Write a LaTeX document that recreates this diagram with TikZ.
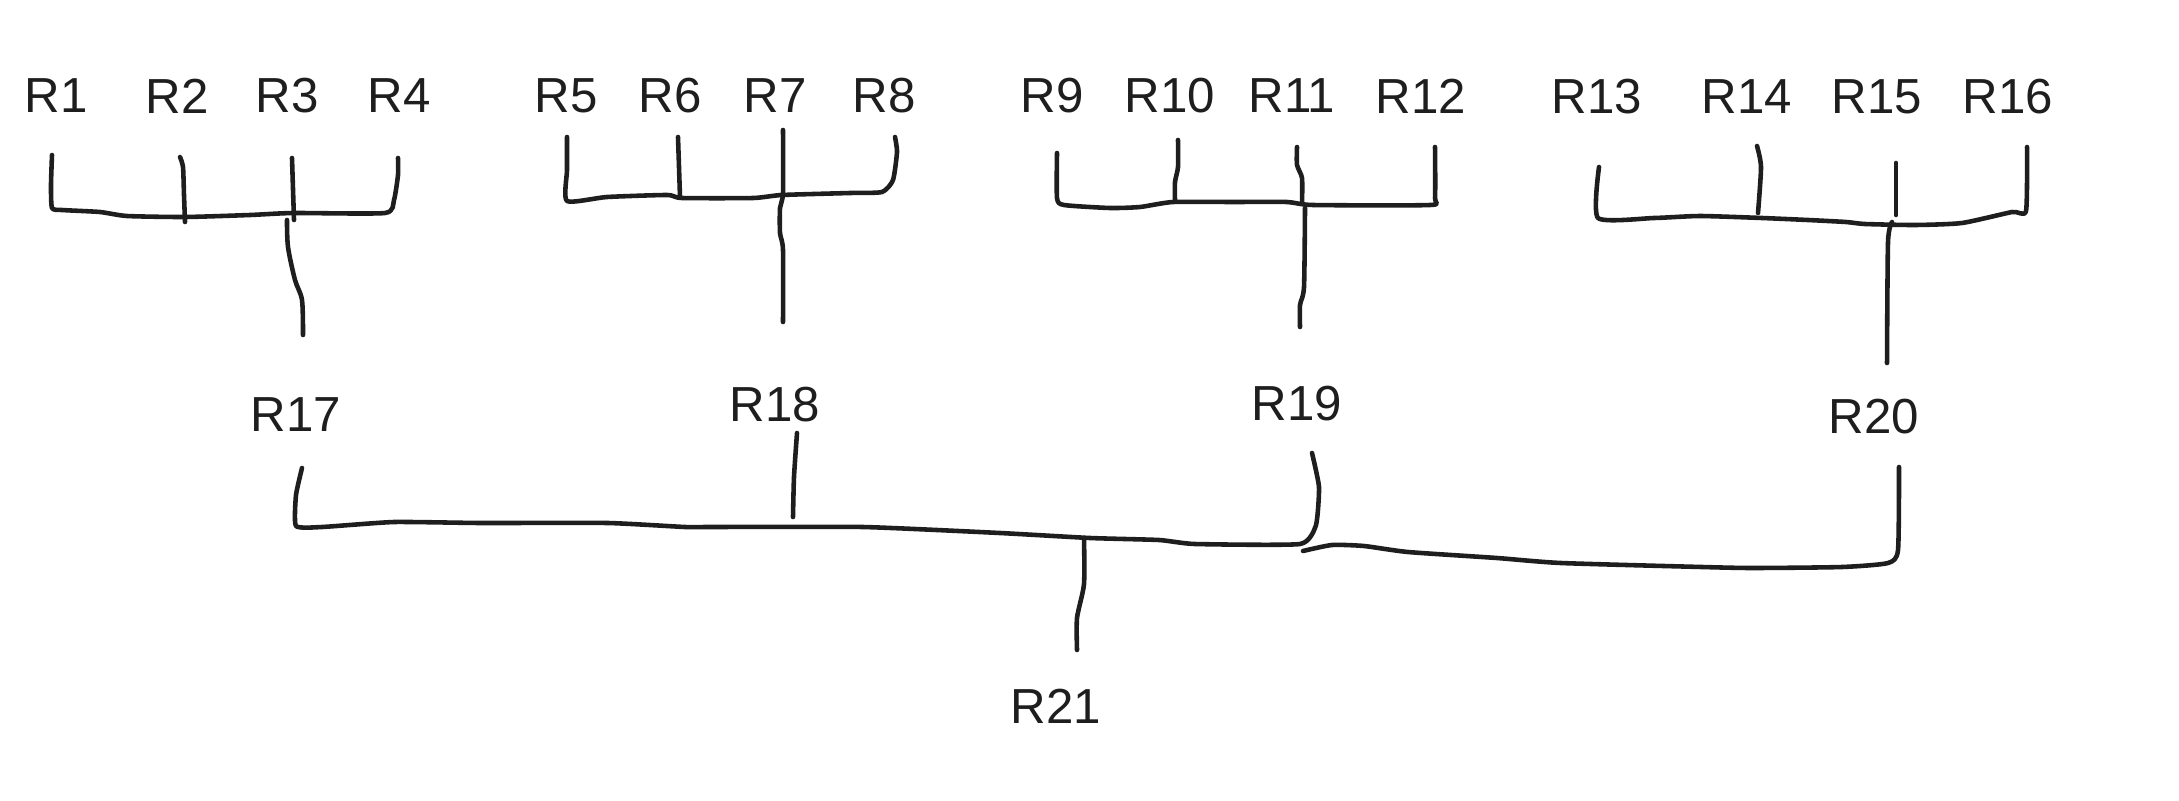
\documentclass[tikz,border=0pt]{standalone}
\usepackage{fontspec}
\setmainfont{Liberation Sans}
\definecolor{ink}{HTML}{1E1E1E}
\begin{document}
\begin{tikzpicture}[x=0.01cm,y=-0.01cm,
  lbl/.style={text=ink,font=\fontsize{14}{16}\selectfont,inner sep=0pt},
  wire/.style={draw=ink,line width=1.3pt,line cap=round,line join=round}]
\useasboundingbox[fill=white] (0,0) rectangle (2179,800);

% labels
\node[lbl] (r1) at (56,96) {R1};
\node[lbl] (r2) at (177,96) {R2};
\node[lbl] (r3) at (287,96) {R3};
\node[lbl] (r4) at (399,96) {R4};
\node[lbl] (r5) at (566,96) {R5};
\node[lbl] (r6) at (670,96) {R6};
\node[lbl] (r7) at (775,96) {R7};
\node[lbl] (r8) at (884,96) {R8};
\node[lbl] (r9) at (1052,96) {R9};
\node[lbl] (r10) at (1170,96) {R10};
\node[lbl] (r11) at (1292,96) {R11};
\node[lbl] (r12) at (1421,96) {R12};
\node[lbl] (r13) at (1597,97) {R13};
\node[lbl] (r14) at (1747,97) {R14};
\node[lbl] (r15) at (1877,97) {R15};
\node[lbl] (r16) at (2008,97) {R16};
\node[lbl] (r17) at (296,415) {R17};
\node[lbl] (r18) at (775,405) {R18};
\node[lbl] (r19) at (1297,404) {R19};
\node[lbl] (r20) at (1874,417) {R20};
\node[lbl] (r21) at (1056,706) {R21};

% connector ends
\coordinate (r1t) at (52,155);   \coordinate (r2t) at (180,157);
\coordinate (r3t) at (292,158);  \coordinate (r4t) at (398,158);
\coordinate (r5t) at (567,137);  \coordinate (r6t) at (678,137);
\coordinate (r7t) at (783,130);  \coordinate (r8t) at (895,137);
\coordinate (r9t) at (1057,153); \coordinate (r10t) at (1178,140);
\coordinate (r11t) at (1297,147);\coordinate (r12t) at (1435,147);
\coordinate (r13t) at (1599,167);\coordinate (r14t) at (1757,146);
\coordinate (r15t) at (1896,163);\coordinate (r16t) at (2027,147);
\coordinate (r17b) at (303,335); \coordinate (r18b) at (783,322);
\coordinate (r19b) at (1300,327);\coordinate (r20b) at (1887,363);
\coordinate (r17t) at (302,468); \coordinate (r18t) at (797,433);
\coordinate (r19t) at (1312,453);\coordinate (r20t) at (1899,467);
\coordinate (r21b) at (1077,650);

% group R1-R4 -> R17
\draw[wire] plot[smooth,tension=0.35] coordinates {(r1t) (51,185) (52,208) (62,210) (100,212) (127,216) (185,217) (250,215) (293,213) (385,213) (394,200) (398,175) (r4t)};
\draw[wire] plot[smooth,tension=0.4] coordinates {(r2t) (183,167) (184,195) (185,222)};
\draw[wire] (r3t) -- (294,220);
\draw[wire] plot[smooth,tension=0.5] coordinates {(287,220) (288,247) (295,280) (302,300) (r17b)};

% group R5-R8 -> R18
\draw[wire] plot[smooth,tension=0.35] coordinates {(r5t) (567,170) (567,201) (607,197) (667,195) (682,198) (753,198) (782,195) (850,193) (882,192) (893,180) (897,152) (r8t)};
\draw[wire] (r6t) -- (680,197);
\draw[wire] plot[smooth,tension=0.4] coordinates {(r7t) (783,193) (780,208) (780,233) (783,250) (r18b)};

% group R9-R12 -> R19
\draw[wire] plot[smooth,tension=0.35] coordinates {(r9t) (1057,198) (1064,205) (1110,208) (1140,207) (1173,202) (1233,202) (1287,202) (1313,205) (1430,205) (1435,198) (r12t)};
\draw[wire] plot[smooth,tension=0.4] coordinates {(r10t) (1178,167) (1175,182) (1175,201)};
\draw[wire] plot[smooth,tension=0.4] coordinates {(r11t) (1297,165) (1302,178) (1302,203)};
\draw[wire] plot[smooth,tension=0.4] coordinates {(1305,208) (1304,287) (1300,305) (r19b)};

% group R13-R16 -> R20
\draw[wire] plot[smooth,tension=0.35] coordinates {(r13t) (1598,218) (1654,218) (1700,216) (1762,218) (1808,220) (1846,222) (1865,224) (1915,225) (1962,223) (2012,212) (2026,211) (r16t)};
\draw[wire] plot[smooth,tension=0.4] coordinates {(r14t) (1761,167) (1758,213)};
\draw[wire] (r15t) -- (1896,215);
\draw[wire] plot[smooth,tension=0.4] coordinates {(1892,222) (1888,242) (r20b)};

% lower level R17-R20 -> R21
\draw[wire] plot[smooth,tension=0.3] coordinates {(r17t) (296,495) (296,526) (322,527) (394,522) (481,523) (608,523) (685,527) (710,527) (863,527) (1000,533) (1090,538) (1159,540) (1195,544) (1300,544) (1316,525) (1319,487) (r19t)};
\draw[wire] plot[smooth,tension=0.4] coordinates {(r18t) (794,477) (793,517)};
\draw[wire] plot[smooth,tension=0.4] coordinates {(1084,538) (1084,584) (1077,618) (r21b)};
\draw[wire] plot[smooth,tension=0.35] coordinates {(1303,551) (1332,545) (1364,546) (1408,552) (1497,558) (1561,563) (1702,567) (1753,568) (1842,567) (1888,563) (1898,550) (r20t)};
\end{tikzpicture}
\end{document}
